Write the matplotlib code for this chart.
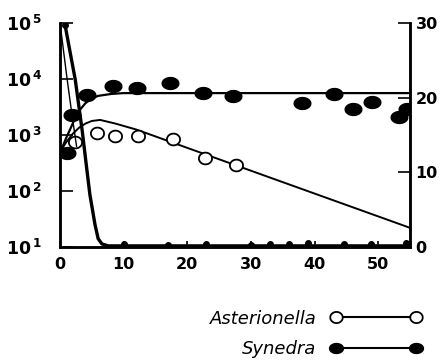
import numpy as np
import matplotlib
matplotlib.use("Agg")
import matplotlib.pyplot as plt
from matplotlib.lines import Line2D

plt.rcParams['font.family'] = ['DejaVu Sans']
plt.rcParams['mathtext.default'] = 'bf'

syn_day = [1.1, 1.9, 4.3, 8.4, 12.1, 17.3, 22.5, 27.2, 38.1, 43.0, 46.1, 49.1, 53.2, 54.6]
syn_cells = [480, 2300, 5100, 7500, 6900, 8500, 5600, 5000, 3700, 5400, 2900, 3900, 2100, 2900]
ast_day = [2.4, 5.8, 8.7, 12.3, 17.8, 22.8, 27.6]
ast_cells = [750, 1100, 960, 960, 850, 390, 290]

# fitted curves
syn_fit_day = [0, 1, 2, 3, 4, 5, 6, 8, 10, 20, 55]
syn_fit_cells = [480, 900, 1600, 2700, 3700, 4500, 5000, 5400, 5600, 5600, 5600]
ast_fit_day = [0, 1, 2, 3, 4, 5, 6.3, 8.7, 12, 55]
ast_fit_cells = [500, 750, 1050, 1350, 1600, 1780, 1860, 1600, 1250, 22]

# silicate (right axis)
si_day = [0.8, 1.5, 2.4, 3.5, 4.2, 4.7, 5.5, 6.0, 6.6, 7.6, 10, 55]
si_val = [29.7, 26.5, 22.4, 15.5, 10.5, 7.0, 3.0, 1.1, 0.4, 0.15, 0.15, 0.15]
si_thin_day = [0, 1.1, 1.9, 2.6]
si_thin_val = [30, 22.6, 17.6, 13.5]
si_pt_day = [0.8, 10, 17, 23, 30, 33, 36, 39, 44.6, 48.8, 54.3]
si_pt_val = [29.7, 0.4, 0.3, 0.4, 0.3, 0.4, 0.4, 0.5, 0.4, 0.4, 0.5]

t = np.linspace(0, 2 * np.pi, 40)
wide = np.column_stack([1.4 * np.cos(t), np.sin(t)])
ring = np.column_stack([1.12 * np.cos(t), np.sin(t)])

fig = plt.figure(figsize=(4.47, 3.62), dpi=100)
ax = fig.add_axes([60 / 447, 115 / 362, 350 / 447, 224 / 362])
ax2 = ax.twinx()

ax.plot(syn_fit_day, syn_fit_cells, color='k', lw=1.6, zorder=3)
ax.plot(ast_fit_day, ast_fit_cells, color='k', lw=1.4, zorder=3)
ax.plot(syn_day, syn_cells, ls='none', marker=wide, ms=12, color='k', zorder=4)
ax.plot(ast_day, ast_cells, ls='none', marker=ring, ms=9.5, mfc='white', mec='k', mew=1.3, zorder=5)

ax2.plot(si_day, si_val, color='k', lw=2.4, zorder=3)
ax2.plot(si_thin_day, si_thin_val, color='k', lw=1.0, zorder=3)
ax2.plot(si_pt_day, si_pt_val, ls='none', marker='o', ms=4, color='k', zorder=4)

ax.set_yscale('log')
ax.set_ylim(10, 1e5)
ax.set_xlim(0, 55)
ax2.set_ylim(0, 30)

ax.set_yticks([10, 100, 1e3, 1e4, 1e5])
ax.set_yticklabels([r'$10^{\,1}$', r'$10^{\,2}$', r'$10^{\,3}$', r'$10^{\,4}$', r'$10^{\,5}$'])
ax.yaxis.set_minor_locator(matplotlib.ticker.NullLocator())
ax.set_xticks([0, 10, 20, 30, 40, 50])
ax2.set_yticks([0, 10, 20, 30])

ax.tick_params(axis='y', direction='in', length=9, width=1.2, pad=13, labelsize=12.5)
ax.tick_params(axis='x', direction='in', length=4, width=1.2, pad=7, labelsize=11.5)
ax2.tick_params(axis='y', direction='in', length=9, width=1.2, pad=4, labelsize=11.5)
for lab in ax.get_xticklabels() + ax2.get_yticklabels():
    lab.set_fontweight('bold')

for a in (ax, ax2):
    a.spines['top'].set_visible(False)
    for s in ('left', 'right', 'bottom'):
        a.spines[s].set_linewidth(1.8)

handles = [
    Line2D([], [], color='k', lw=1.5, marker=ring, ms=9, mfc='white', mec='k', mew=1.3),
    Line2D([], [], color='k', lw=1.5, marker=wide, ms=10, mfc='k', mec='k'),
]
leg = fig.legend(handles, ['Asterionella', 'Synedra'], loc='center right',
                 bbox_to_anchor=(421 / 447, 28 / 362), frameon=False,
                 markerfirst=False, numpoints=2, handlelength=5.0,
                 handletextpad=0.8, labelspacing=0.7, borderpad=0, borderaxespad=0,
                 prop={'style': 'italic', 'size': 13})

fig.savefig('out.png', dpi=100)
